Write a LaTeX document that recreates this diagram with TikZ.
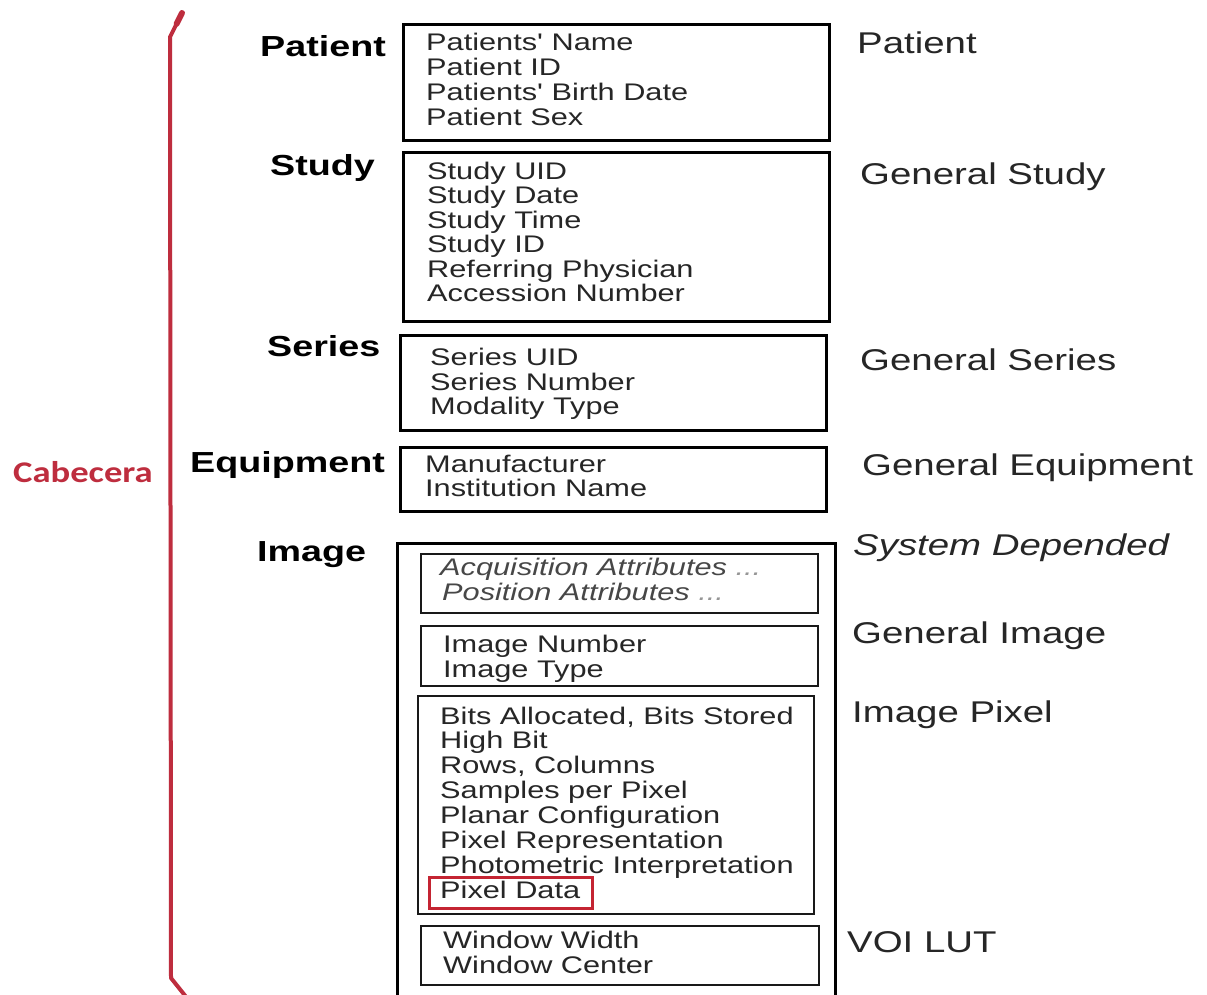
\documentclass[tikz,border=0pt]{standalone}
\usepackage{fontspec}
\usetikzlibrary{calc}
\setmainfont{Liberation Sans}
\newfontfamily\itemfont[FakeStretch=1.28]{Liberation Sans}
\newfontfamily\headfont[FakeStretch=1.3]{Liberation Sans}
\newfontfamily\cabfont[FakeStretch=1.22]{Carlito}
\definecolor{txt}{RGB}{38,38,38}
\definecolor{dots}{RGB}{150,150,150}
\definecolor{bracered}{RGB}{190,45,62}
\definecolor{boxred}{RGB}{196,36,50}
\tikzset{
  item/.style={anchor=base west, inner sep=0pt, text=txt, font=\itemfont\fontsize{24}{25}\selectfont},
  itemit/.style={item, font=\itemfont\itshape\fontsize{24}{25}\selectfont, text=txt!85!white},
  modname/.style={anchor=base west, inner sep=0pt, text=txt, font=\itemfont\fontsize{30}{30}\selectfont},
  modit/.style={modname, font=\itemfont\itshape\fontsize{30}{30}\selectfont},
  level/.style={anchor=base west, inner sep=0pt, text=black, font=\headfont\bfseries\fontsize{29}{29}\selectfont},
  cab/.style={anchor=base west, inner sep=0pt, text=bracered, font=\cabfont\bfseries\fontsize{30}{30}\selectfont},
  boxthick/.style={draw=black, line width=3pt},
  boxthin/.style={draw=black!90, line width=2pt},
  redbox/.style={draw=boxred, line width=3pt},
  bracepath/.style={draw=bracered, line width=4pt, line join=round, line cap=round}
}
\begin{document}
\begin{tikzpicture}[x=1pt,y=-1pt]
\useasboundingbox[fill=white] (0,0) rectangle (1207,994);

% brace and its label
\coordinate (bt) at (182,13);
\coordinate (b1) at (170,37);
\coordinate (b2) at (171,978);
\coordinate (bb) at (187,998);
\draw[bracepath] (bt) -- (b1) -- (b2) -- (bb);
\draw[bracered, line width=6pt, line cap=round] (bt) -- ($(bt)!0.45!(b1)$);
\node[cab] (cabecera) at (13,482) {Cabecera};

% level labels (left)
\node[level] (lpatient) at (260,56) {Patient};
\node[level] (lstudy) at (270,175) {Study};
\node[level] (lseries) at (267,356) {Series};
\node[level] (lequip) at (190,472) {Equipment};
\node[level] (limage) at (257,561) {Image};

% module names (right)
\node[modname] (mpatient) at (857,53) {Patient};
\node[modname] (mstudy) at (860,184) {General Study};
\node[modname] (mseries) at (860,370) {General Series};
\node[modname] (mequip) at (862,475) {General Equipment};
\node[modit] (msystem) at (853,555) {System Depended};
\node[modname] (mgimage) at (852,643) {General Image};
\node[modname] (mpixel) at (852,722) {Image Pixel};
\node[modname] (mvoi) at (847,952) {VOI LUT};

% patient box
\draw[boxthick] (403,24) rectangle (829,140);
\node[item] (p1) at (426,50) {Patients' Name};
\node[item] (p2) at (426,75) {Patient ID};
\node[item] (p3) at (426,100) {Patients' Birth Date};
\node[item] (p4) at (426,125) {Patient Sex};

% study box
\draw[boxthick] (403,152) rectangle (829,321);
\node[item] (s1) at (427,179) {Study UID};
\node[item] (s2) at (427,203.5) {Study Date};
\node[item] (s3) at (427,228) {Study Time};
\node[item] (s4) at (427,252.5) {Study ID};
\node[item] (s5) at (427,277) {Referring Physician};
\node[item] (s6) at (427,301.5) {Accession Number};

% series box
\draw[boxthick] (400,335) rectangle (826,430);
\node[item] (r1) at (430,365) {Series UID};
\node[item] (r2) at (430,390) {Series Number};
\node[item] (r3) at (430,414) {Modality Type};

% equipment box
\draw[boxthick] (400,447) rectangle (826,511);
\node[item] (e1) at (425,472) {Manufacturer};
\node[item] (e2) at (425,496) {Institution Name};

% image outer box (open at the bottom edge of the picture)
\draw[boxthick] (397,1000) -- (397,543) -- (835,543) -- (835,1000);

% system dependent attributes
\draw[boxthin] (421,554) rectangle (818,613);
\node[itemit] (a1) at (440,575) {Acquisition Attributes \textcolor{dots}{...}};
\node[itemit] (a2) at (442,600) {Position Attributes \textcolor{dots}{...}};

% general image
\draw[boxthin] (421,626) rectangle (818,686);
\node[item] (g1) at (443,652) {Image Number};
\node[item] (g2) at (443,677) {Image Type};

% image pixel
\draw[boxthin] (418,696) rectangle (814,914);
\node[item] (x1) at (440,724) {Bits Allocated, Bits Stored};
\node[item] (x2) at (440,748) {High Bit};
\node[item] (x3) at (440,773) {Rows, Columns};
\node[item] (x4) at (440,798) {Samples per Pixel};
\node[item] (x5) at (440,823) {Planar Configuration};
\node[item] (x6) at (440,848) {Pixel Representation};
\node[item] (x7) at (440,873) {Photometric Interpretation};
\node[item] (x8) at (440,898) {Pixel Data};
\draw[redbox] (429,877) rectangle (592,908);

% VOI LUT
\draw[boxthin] (421,926) rectangle (819,985);
\node[item] (w1) at (443,948) {Window Width};
\node[item] (w2) at (443,973) {Window Center};
\end{tikzpicture}
\end{document}
